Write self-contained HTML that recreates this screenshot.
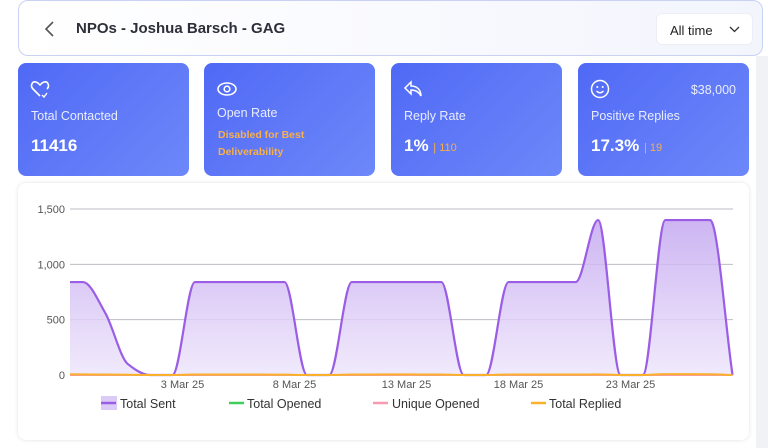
<!DOCTYPE html>
<html><head><meta charset="utf-8"><style>
*{box-sizing:border-box;margin:0;padding:0}
body{width:768px;height:448px;background:#fff;font-family:"Liberation Sans",sans-serif;position:relative;overflow:hidden}
.hdr{position:absolute;left:18px;top:0;width:745px;height:56px;border:1px solid #c9d2f5;border-radius:10px;background:linear-gradient(90deg,#fff,#f3f5fd)}
.title{position:absolute;left:57px;top:19px;font-size:15px;font-weight:bold;color:#2d2f3a}
.dd{position:absolute;left:637px;top:12px;width:97px;height:32px;background:#fff;border-radius:6px;border:1px solid #eceef5;font-size:13px;color:#222;padding:9px 0 0 13px}
.card{position:absolute;top:63px;width:171px;height:113px;border-radius:8px;background:linear-gradient(135deg,#5069f6,#6d88f9);color:#fff}
.card .lab{position:absolute;left:13px;top:45px;font-size:12.5px;color:#e9edff}
.card .val{position:absolute;left:13px;top:73px;font-size:17px;font-weight:bold}
.card .sub{font-size:11px;color:#f7b04a;font-weight:normal}
.card svg{position:absolute;left:12px;top:16px}
.chart{position:absolute;left:18px;top:183px;width:731px;height:257px;background:#fff;border-radius:8px;box-shadow:0 0 4px rgba(0,0,0,.12)}
.sb{position:absolute;left:756px;top:56px;width:12px;height:392px;background:#f1f2f6}
</style></head><body>
<div class="sb"></div>
<div class="hdr">
<svg style="position:absolute;left:24px;top:19px" width="14" height="18"><path d="M10 2 L3 9 L10 16" stroke="#555" stroke-width="1.6" fill="none"/></svg>
<div class="title">NPOs - Joshua Barsch - GAG</div>
<div class="dd">All time<svg style="position:absolute;left:72px;top:12px" width="11" height="7"><path d="M1 1 L5.5 5.5 L10 1" stroke="#333" stroke-width="1.3" fill="none"/></svg></div>
</div>
<div class="card" style="left:18px">
<svg width="20" height="20"><path d="M10 17 L3 10 C0 7 2 2 6 3 C8 3.5 9 5 10 6 C11 5 12 3.5 14 3 C18 2 20 7 17 10" stroke="#fff" stroke-width="1.6" fill="none"/><path d="M12 16 L14 18 L17 14" stroke="#fff" stroke-width="1.4" fill="none"/></svg>
<div class="lab" style="top:46px">Total Contacted</div><div class="val" style="top:73px">11416</div></div>
<div class="card" style="left:204px">
<svg width="22" height="20"><ellipse cx="11" cy="10" rx="9" ry="6" stroke="#fff" stroke-width="1.6" fill="none"/><circle cx="11" cy="10" r="2.8" stroke="#fff" stroke-width="1.6" fill="none"/></svg>
<div class="lab" style="top:43px">Open Rate</div>
<div class="sub" style="position:absolute;left:14px;top:64px;line-height:17px;font-weight:bold;font-size:10.5px">Disabled for Best<br>Deliverability</div></div>
<div class="card" style="left:391px">
<svg width="22" height="20"><path d="M8 3 L2 9 L8 15 L8 11 C13 11 16 13 18 17 C18 11 14 7 8 7 Z" stroke="#fff" stroke-width="1.5" fill="none"/></svg>
<div class="lab" style="top:46px">Reply Rate</div><div class="val">1% <span class="sub">| 110</span></div></div>
<div class="card" style="left:578px">
<svg width="22" height="22"><circle cx="10" cy="10" r="8.5" stroke="#fff" stroke-width="1.5" fill="none"/><circle cx="7.3" cy="8" r="1" fill="#fff"/><circle cx="12.7" cy="8" r="1" fill="#fff"/><path d="M6.5 12 Q10 15.5 13.5 12" stroke="#fff" stroke-width="1.4" fill="none"/></svg>
<div style="position:absolute;right:13px;top:20px;font-size:12.5px;color:#e9edff">$38,000</div>
<div class="lab" style="top:46px">Positive Replies</div><div class="val">17.3% <span class="sub">| 19</span></div></div>
<div class="chart"></div>
<svg id="svg" width="768" height="448" style="position:absolute;left:0;top:0">
<defs><linearGradient id="g" x1="0" y1="0" x2="0" y2="1"><stop offset="0" stop-color="#c4a8f0" stop-opacity="0.85"/><stop offset="1" stop-color="#ede4fb" stop-opacity="0.8"/></linearGradient>
<clipPath id="clip"><rect x="70" y="150" width="670" height="240"/></clipPath></defs>
</svg>
<script>
const categories=[];for(let d=0;d<31;d++){const dt=new Date(2025,1,26+d);categories.push(dt.getDate()+' '+['Jan','Feb','Mar'][dt.getMonth()]+' 25');}
const totalSent=[840,840,560,100,0,0,840,840,840,840,840,0,0,840,840,840,840,840,0,0,840,840,840,840,1400,0,0,1400,1400,1400,0];
const totalOpened=new Array(31).fill(0);
const uniqueOpened=new Array(31).fill(0);
const totalReplied=[8,6,4,2,0,0,4,4,5,4,3,0,0,4,5,6,5,4,0,0,5,5,5,4,6,0,0,8,8,7,0];
const yTicks=[0,500,1000,1500];
const xTickLabels=['3 Mar 25','8 Mar 25','13 Mar 25','18 Mar 25','23 Mar 25'];
const X0=70,X1=733,Y0=375,Y1=209,YMAX=1500,PX0=60.5,PX1=732.5;
const xs=i=>PX0+(PX1-PX0)*i/(categories.length-1);
const ys=v=>Y0-(Y0-Y1)*v/YMAX;
const svg=document.getElementById('svg');const NS='http://www.w3.org/2000/svg';
function mk(t,a,p){const e=document.createElementNS(NS,t);for(const k in a)e.setAttribute(k,a[k]);(p||svg).appendChild(e);return e;}
yTicks.forEach(v=>{const l=mk('line',{x1:X0,x2:X1,y1:ys(v),y2:ys(v),stroke:'#bdbdc4','stroke-width':1});


const t=mk('text',{x:X0-5,y:ys(v)+4,'text-anchor':'end','font-size':11,fill:'#555','font-family':'Liberation Sans'});t.textContent=v.toLocaleString('en-US');

});
xTickLabels.forEach(lb=>{const i=categories.indexOf(lb);const t=mk('text',{x:xs(i)+10,y:388,'text-anchor':'middle','font-size':11,fill:'#555','font-family':'Liberation Sans'});t.textContent=lb;

});
function path(vals){const n=vals.length,p=vals.map((v,i)=>[xs(i),ys(v)]);const m=[];
const d=[];for(let i=0;i<n-1;i++)d.push((p[i+1][1]-p[i][1])/(p[i+1][0]-p[i][0]));
for(let i=0;i<n;i++){if(i==0)m.push(d[0]);else if(i==n-1)m.push(d[n-2]);else m.push(d[i-1]*d[i]<=0?0:2*d[i-1]*d[i]/(d[i-1]+d[i]));}
let s='M'+p[0][0]+','+p[0][1];for(let i=0;i<n-1;i++){const h=(p[i+1][0]-p[i][0])/3;s+=' C'+(p[i][0]+h)+','+(p[i][1]+m[i]*h)+' '+(p[i+1][0]-h)+','+(p[i+1][1]-m[i+1]*h)+' '+p[i+1][0]+','+p[i+1][1];}return s;}
const gr=mk('g',{'clip-path':'url(#clip)'});
const sp=path(totalSent);
const area=mk('path',{d:sp+' L'+xs(categories.length-1)+','+Y0+' L'+xs(0)+','+Y0+' Z',fill:'url(#g)'},gr);


const ln=mk('path',{d:sp,fill:'none',stroke:'#9b5de5','stroke-width':2.2},gr);


[[totalOpened,'#3ecf5a','total-opened-line'],[uniqueOpened,'#f79ab0','unique-opened-line'],[totalReplied,'#f9b02a','total-replied-line']].forEach(([v,c,n])=>{const e=mk('path',{d:path(v),fill:'none',stroke:c,'stroke-width':2},gr);

});
const leg=[['Total Sent',101,120,'#9b5de5'],['Total Opened',229,247,'#3ecf5a'],['Unique Opened',373,392,'#f79ab0'],['Total Replied',531,549,'#f9b02a']];
leg.forEach(([t,sx,tx,c],k)=>{if(k==0){const r=mk('rect',{x:sx,y:396,width:16,height:14,fill:'#dccbf7'});}
const l=mk('line',{x1:sx,x2:sx+15,y1:403,y2:403,stroke:c,'stroke-width':2.5});


const tt=mk('text',{x:tx,y:408,'font-size':12.5,fill:'#333','font-family':'Liberation Sans'});tt.textContent=t;

});
</script>
</body></html>
